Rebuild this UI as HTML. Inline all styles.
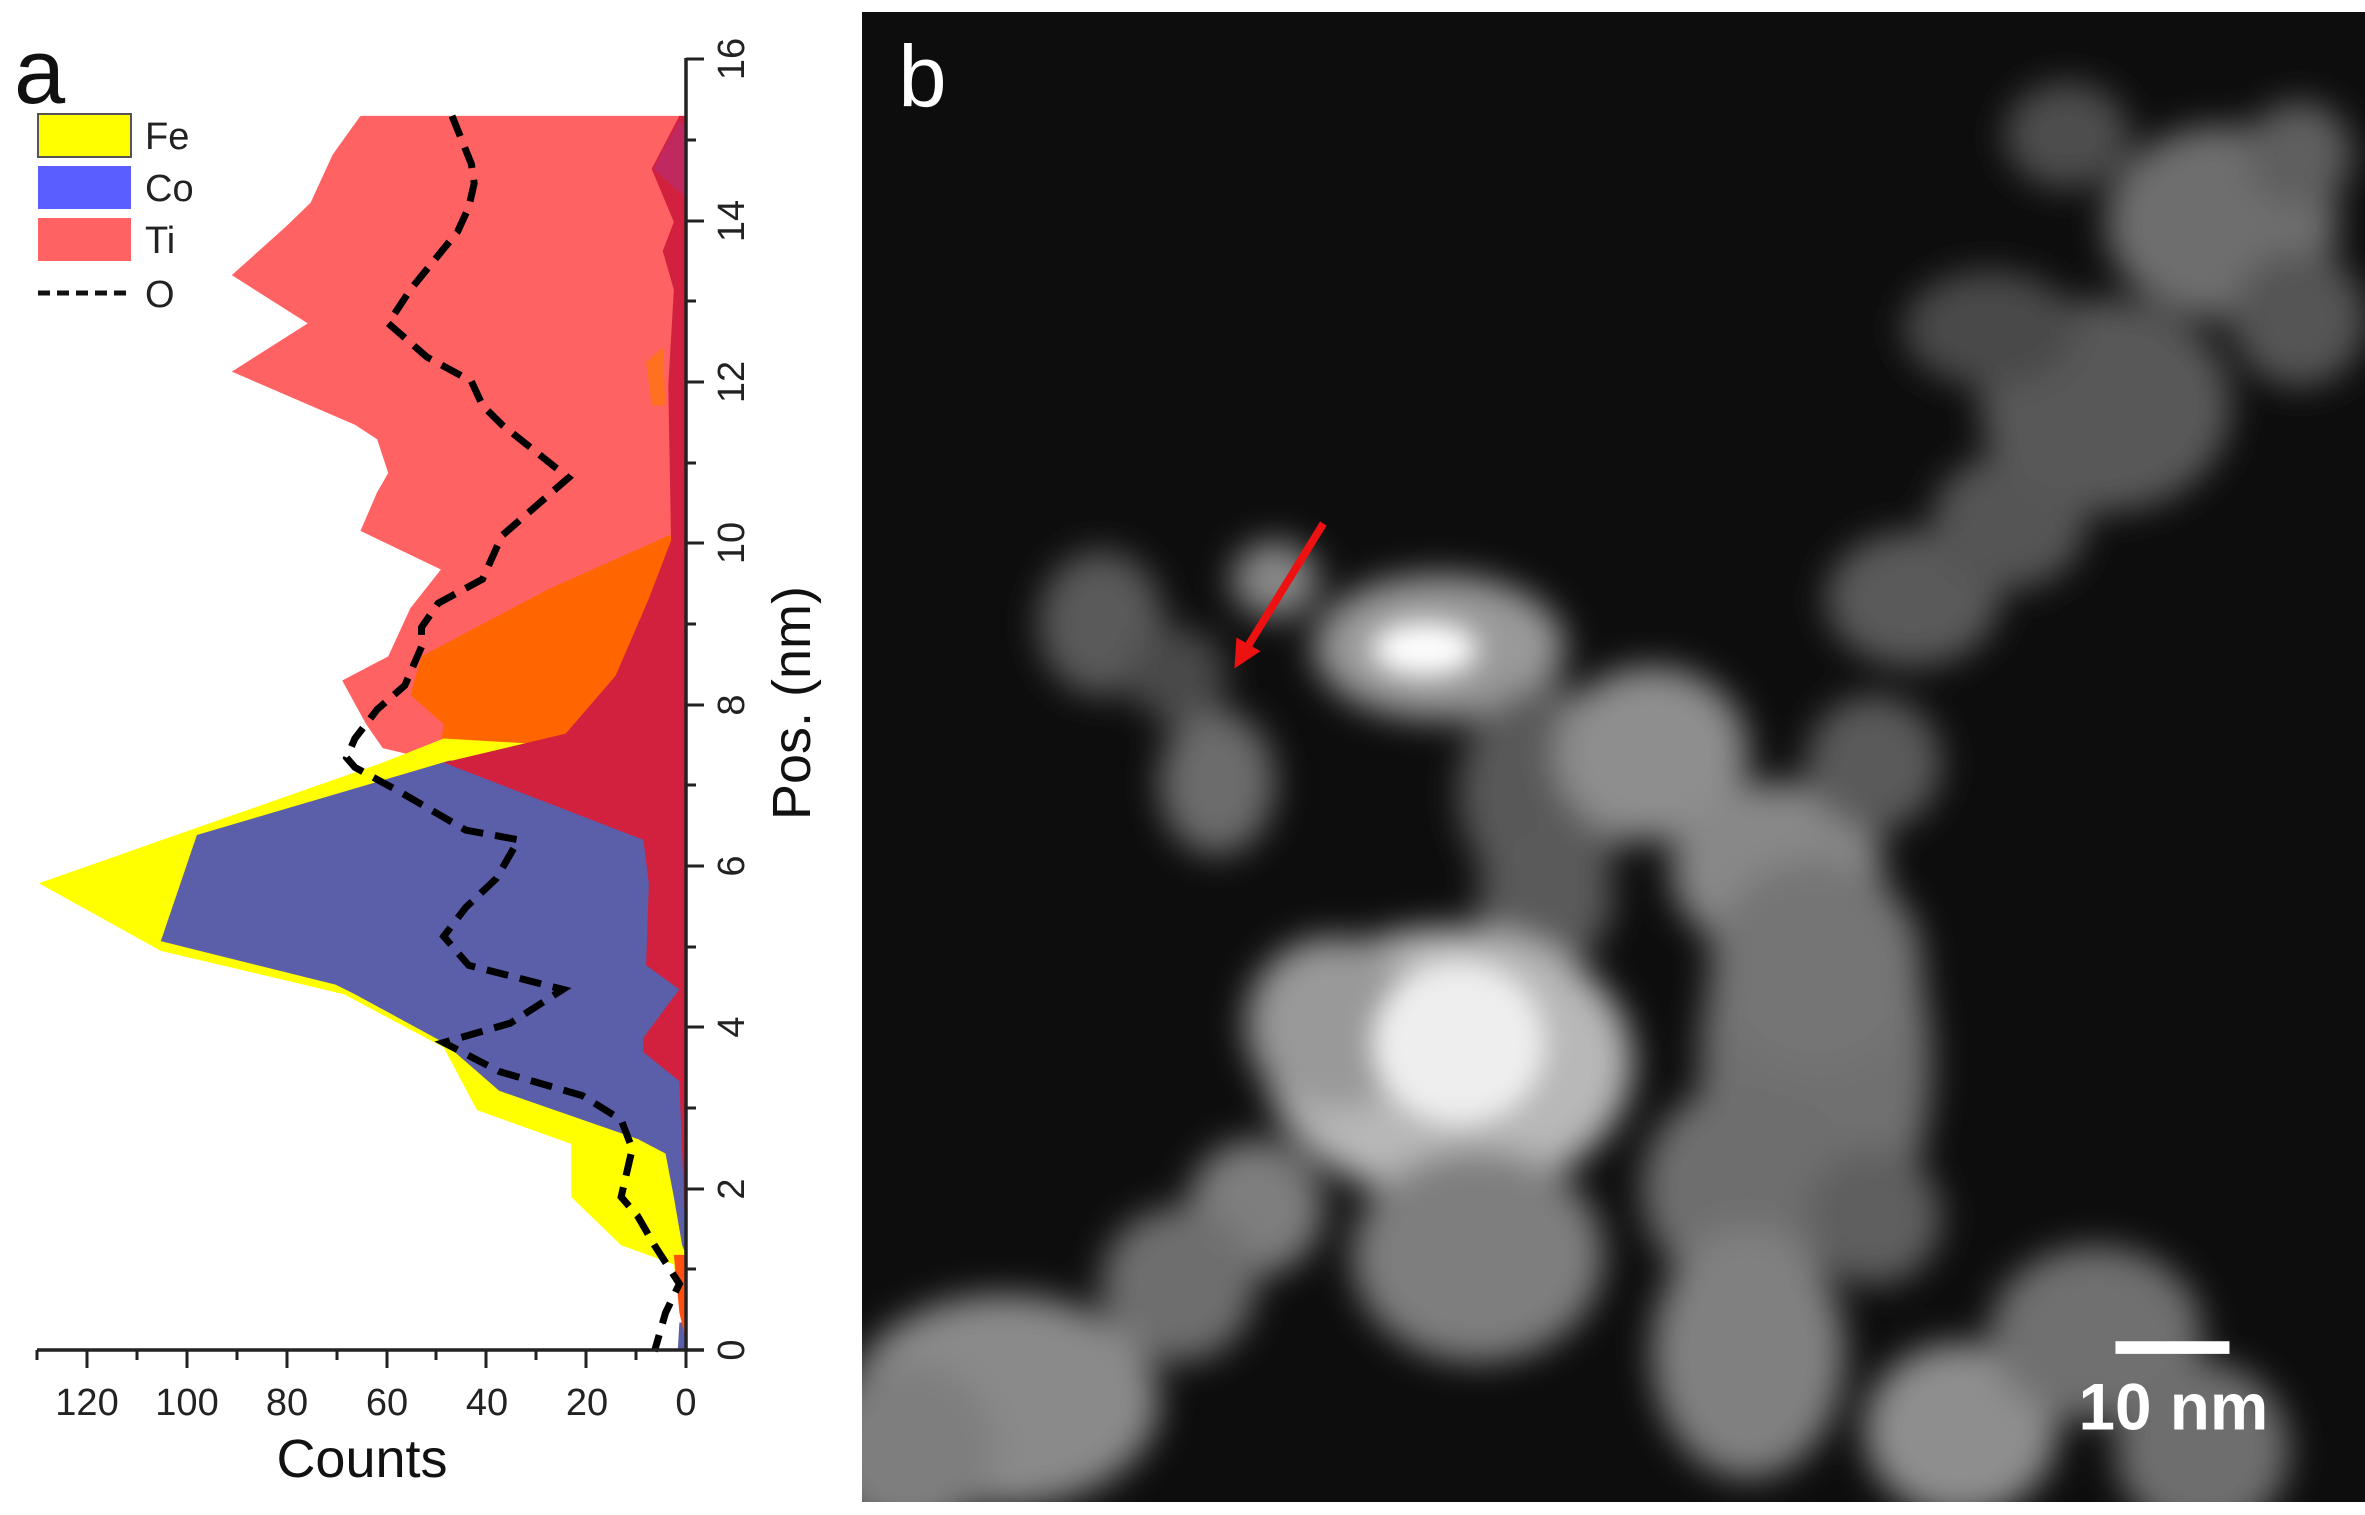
<!DOCTYPE html>
<html><head><meta charset="utf-8"><style>
html,body{margin:0;padding:0;background:#fff;}
svg{display:block;}
text{font-family:"Liberation Sans",sans-serif;}
</style></head><body>
<svg width="2365" height="1515" viewBox="0 0 2365 1515" xmlns="http://www.w3.org/2000/svg">
<defs>
<filter id="bl" x="-50%" y="-50%" width="200%" height="200%"><feGaussianBlur stdDeviation="18"/></filter>
<filter id="bl2" x="-50%" y="-50%" width="200%" height="200%"><feGaussianBlur stdDeviation="14"/></filter>
</defs>
<rect width="2365" height="1515" fill="#fff"/>
<g transform="scale(0.5546,0.9653)">
<polygon fill="#FF6262" points="1237,120 650,120 600,160 560,210 515,235 418,285 555,335 418,385 640,440 680,455 700,490 680,510 650,550 795,590 740,630 700,680 617,705 660,750 690,775 800,790 1237,790"/>
<polygon fill="#FF6600" points="1205,555 990,610 760,680 740,720 800,750 790,790 1237,790 1237,555"/>
<polygon fill="#FF7020" points="1165,375 1195,360 1200,420 1175,420"/>
<polygon fill="#FFFF00" points="800,765 690,790 70,915 290,985 620,1030 800,1085 860,1150 1030,1185 1030,1240 1120,1290 1215,1310 1237,1400 1237,780"/>
<polygon fill="#5B5EA8" points="810,788 355,865 290,975 605,1020 640,1030 800,1080 900,1130 1150,1180 1200,1195 1215,1240 1230,1290 1237,1300 1237,788"/>
<polygon fill="#5B5EA8" points="1225,1370 1237,1370 1237,1400 1222,1400"/>
<polygon fill="#D2203F" points="1237,120 1225,120 1175,175 1215,230 1195,260 1215,300 1205,400 1210,560 1170,620 1110,700 1020,760 800,790 1160,870 1170,915 1165,1000 1225,1025 1160,1075 1160,1090 1225,1120 1237,1300 1237,120"/>
<polygon fill="#C02860" points="1237,130 1225,125 1178,175 1237,205"/>
<polygon fill="#FF5010" points="1215,1300 1237,1300 1237,1390 1225,1360"/>
<polyline fill="none" stroke="#000" stroke-width="7" stroke-dasharray="22,12" vector-effect="non-scaling-stroke" points="815,120 850,170 855,190 845,215 825,240 740,300 700,335 770,370 850,395 870,420 905,440 1025,495 955,530 905,555 870,600 790,625 760,650 760,670 730,710 680,735 640,765 625,785 640,795 720,820 840,860 935,870 895,910 840,940 800,970 845,1000 1015,1025 920,1060 800,1080 900,1110 1050,1135 1120,1160 1140,1190 1120,1240 1150,1260 1180,1290 1225,1330 1200,1360 1180,1400"/>
</g>
<g stroke="#222" stroke-width="3.5" fill="none">
<line x1="686" y1="58" x2="686" y2="1352"/>
<line x1="37" y1="1350" x2="704" y2="1350"/>
</g>
<g stroke="#222" stroke-width="3">
<line x1="686" y1="1350" x2="704" y2="1350"/><line x1="686" y1="1269" x2="696" y2="1269"/>
<line x1="686" y1="1189" x2="704" y2="1189"/><line x1="686" y1="1108" x2="696" y2="1108"/>
<line x1="686" y1="1027" x2="704" y2="1027"/><line x1="686" y1="947" x2="696" y2="947"/>
<line x1="686" y1="866" x2="704" y2="866"/><line x1="686" y1="785" x2="696" y2="785"/>
<line x1="686" y1="705" x2="704" y2="705"/><line x1="686" y1="624" x2="696" y2="624"/>
<line x1="686" y1="543" x2="704" y2="543"/><line x1="686" y1="463" x2="696" y2="463"/>
<line x1="686" y1="382" x2="704" y2="382"/><line x1="686" y1="301" x2="696" y2="301"/>
<line x1="686" y1="221" x2="704" y2="221"/><line x1="686" y1="140" x2="696" y2="140"/>
<line x1="686" y1="59" x2="704" y2="59"/>
<line x1="686" y1="1350" x2="686" y2="1368"/><line x1="636" y1="1350" x2="636" y2="1360"/>
<line x1="586" y1="1350" x2="586" y2="1368"/><line x1="536" y1="1350" x2="536" y2="1360"/>
<line x1="486" y1="1350" x2="486" y2="1368"/><line x1="436" y1="1350" x2="436" y2="1360"/>
<line x1="387" y1="1350" x2="387" y2="1368"/><line x1="337" y1="1350" x2="337" y2="1360"/>
<line x1="287" y1="1350" x2="287" y2="1368"/><line x1="237" y1="1350" x2="237" y2="1360"/>
<line x1="187" y1="1350" x2="187" y2="1368"/><line x1="137" y1="1350" x2="137" y2="1360"/>
<line x1="87" y1="1350" x2="87" y2="1368"/><line x1="37" y1="1350" x2="37" y2="1360"/>
</g>
<g font-size="38" fill="#222" text-anchor="middle">
<text x="686" y="1415">0</text><text x="587" y="1415">20</text><text x="487" y="1415">40</text>
<text x="387" y="1415">60</text><text x="287" y="1415">80</text><text x="187" y="1415">100</text><text x="87" y="1415">120</text>
</g>
<text x="362" y="1477" font-size="54" text-anchor="middle" fill="#111">Counts</text>
<g font-size="38" fill="#222" text-anchor="middle">
<text transform="translate(744,1350) rotate(-90)">0</text>
<text transform="translate(744,1189) rotate(-90)">2</text>
<text transform="translate(744,1027) rotate(-90)">4</text>
<text transform="translate(744,866) rotate(-90)">6</text>
<text transform="translate(744,705) rotate(-90)">8</text>
<text transform="translate(744,543) rotate(-90)">10</text>
<text transform="translate(744,382) rotate(-90)">12</text>
<text transform="translate(744,221) rotate(-90)">14</text>
<text transform="translate(744,59) rotate(-90)">16</text>
</g>
<text transform="translate(810,703) rotate(-90)" font-size="54" text-anchor="middle" fill="#111">Pos. (nm)</text>
<text x="14" y="103" font-size="92" fill="#111">a</text>
<rect x="38" y="114" width="93" height="43" fill="#FFFF00" stroke="#555" stroke-width="2"/>
<rect x="38" y="166" width="93" height="43" fill="#5B5EFF"/>
<rect x="38" y="218" width="93" height="43" fill="#FF6262"/>
<line x1="38" y1="293" x2="131" y2="293" stroke="#111" stroke-width="5" stroke-dasharray="12,7"/>
<g font-size="38" fill="#222">
<text x="145" y="149">Fe</text><text x="145" y="201">Co</text><text x="145" y="253">Ti</text><text x="145" y="307">O</text>
</g>
<rect x="862" y="12" width="1503" height="1490" fill="#0d0d0d"/>
<svg x="862" y="12" width="1503" height="1490" viewBox="862 12 1503 1490" overflow="hidden">
<g transform="translate(850,0) scale(0.966)">
<g filter="url(#bl)">
<ellipse cx="260" cy="645" rx="65" ry="75" fill="#5a5a5a"/>
<ellipse cx="440" cy="600" rx="45" ry="40" fill="#888"/>
<ellipse cx="340" cy="700" rx="50" ry="50" fill="#4a4a4a"/>
<ellipse cx="380" cy="810" rx="60" ry="75" fill="#6c6c6c"/>
<ellipse cx="610" cy="670" rx="130" ry="75" fill="#9a9a9a"/>
<ellipse cx="720" cy="820" rx="90" ry="110" fill="#585858"/>
<ellipse cx="830" cy="780" rx="100" ry="90" fill="#8e8e8e"/>
<ellipse cx="960" cy="900" rx="110" ry="90" fill="#888"/>
<ellipse cx="720" cy="930" rx="70" ry="70" fill="#5a5a5a"/>
<ellipse cx="1060" cy="790" rx="70" ry="70" fill="#5a5a5a"/>
<ellipse cx="1100" cy="620" rx="90" ry="70" fill="#5a5a5a"/>
<ellipse cx="1200" cy="540" rx="80" ry="70" fill="#545454"/>
<ellipse cx="1300" cy="420" rx="130" ry="110" fill="#585858"/>
<ellipse cx="1180" cy="340" rx="90" ry="60" fill="#4a4a4a"/>
<ellipse cx="1260" cy="140" rx="65" ry="55" fill="#4e4e4e"/>
<ellipse cx="1420" cy="230" rx="120" ry="100" fill="#6e6e6e"/>
<ellipse cx="1500" cy="160" rx="55" ry="55" fill="#5e5e5e"/>
<ellipse cx="1500" cy="330" rx="70" ry="70" fill="#545454"/>
<ellipse cx="620" cy="1100" rx="190" ry="140" fill="#b8b8b8"/>
<ellipse cx="500" cy="1060" rx="90" ry="90" fill="#999"/>
<ellipse cx="650" cy="1300" rx="130" ry="110" fill="#7e7e7e"/>
<ellipse cx="420" cy="1250" rx="70" ry="70" fill="#7e7e7e"/>
<ellipse cx="340" cy="1330" rx="80" ry="80" fill="#6e6e6e"/>
<ellipse cx="1000" cy="1100" rx="120" ry="210" fill="#707070"/>
<ellipse cx="930" cy="1230" rx="110" ry="110" fill="#6e6e6e"/>
<ellipse cx="1000" cy="1000" rx="110" ry="110" fill="#747474"/>
<ellipse cx="1060" cy="1260" rx="70" ry="70" fill="#5e5e5e"/>
<ellipse cx="930" cy="1400" rx="100" ry="130" fill="#808080"/>
<ellipse cx="1150" cy="1480" rx="100" ry="90" fill="#8e8e8e"/>
<ellipse cx="1290" cy="1380" rx="110" ry="90" fill="#707070"/>
<ellipse cx="1400" cy="1500" rx="90" ry="90" fill="#6e6e6e"/>
<ellipse cx="160" cy="1450" rx="160" ry="110" fill="#8a8a8a"/>
<ellipse cx="60" cy="1500" rx="90" ry="90" fill="#7e7e7e"/>
</g>
<g filter="url(#bl2)">
<ellipse cx="595" cy="672" rx="55" ry="28" fill="#fff"/>
<ellipse cx="630" cy="1080" rx="90" ry="85" fill="#eee"/>
</g>
<line x1="490" y1="542" x2="410" y2="672" stroke="#ee1111" stroke-width="8"/>
<polygon points="398,692 400,660 425,674" fill="#ee1111"/>
<line x1="1310" y1="1395" x2="1428" y2="1395" stroke="#fff" stroke-width="13"/>
<text x="1370" y="1480" font-size="68" font-weight="bold" fill="#fff" text-anchor="middle">10 nm</text>
<text x="50" y="110" font-size="90" fill="#fff">b</text>
</g>
</svg>
</svg>
</body></html>
